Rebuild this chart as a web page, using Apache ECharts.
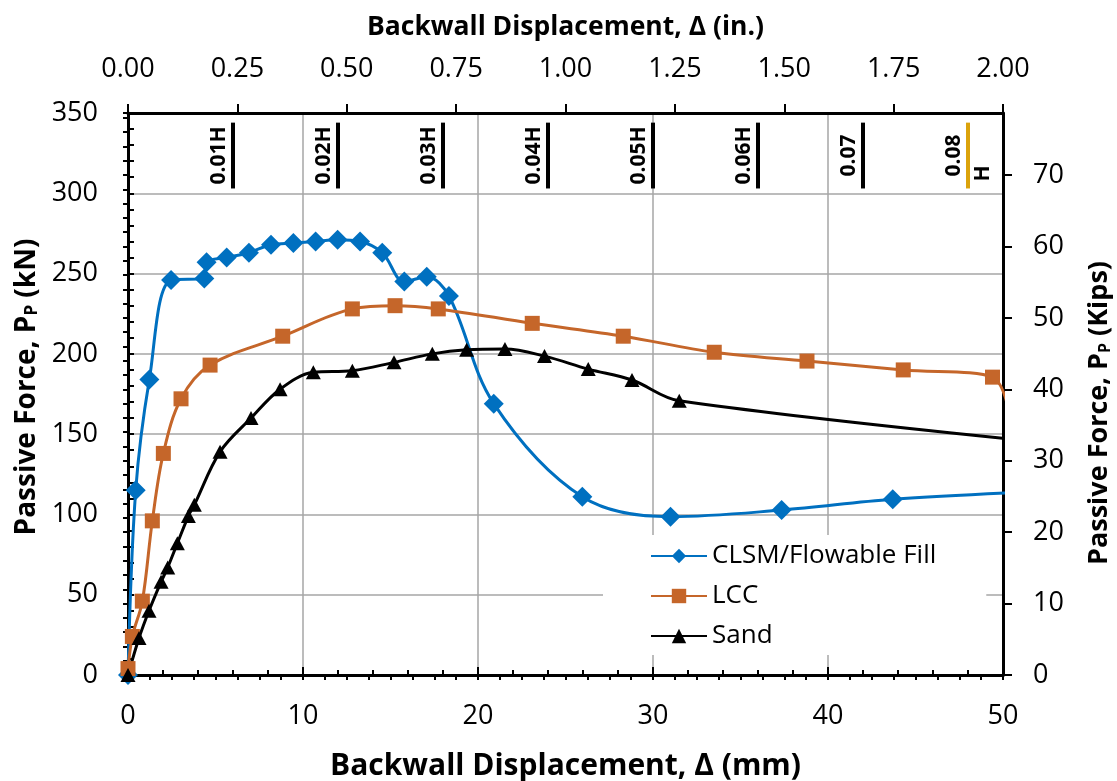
<!DOCTYPE html>
<html>
<head>
<meta charset="utf-8">
<script src="https://cdn.jsdelivr.net/npm/echarts@6/dist/echarts.min.js"></script>
<style>
html,body{margin:0;padding:0;background:#fff;overflow:hidden;width:1117px;height:781px;}
#chart{width:1117px;height:781px;overflow:hidden;}
</style>
</head>
<body>
<div id="chart"></div>
<script>
// ---- data (displacement in mm, force in kN) ----
var clsmX = [0, 0.44, 1.22, 2.46, 4.36, 4.49, 5.64, 6.91, 8.17, 9.45, 10.72, 11.98, 13.26, 14.53, 15.79, 17.07, 18.34, 20.9, 25.96, 31.0, 37.35, 43.7, 51.5];
var clsmY = [0, 115, 184, 246, 247, 257, 260, 263, 268, 269, 270, 271, 270, 263, 245, 248, 236, 169, 111, 98.6, 102.7, 109.4, 114];

var lccX = [0, 0.25, 0.82, 1.39, 2.02, 3.03, 4.69, 8.84, 12.82, 15.26, 17.73, 23.1, 28.3, 33.5, 38.8, 44.3, 49.4, 50.8];
var lccY = [4, 24, 46, 96, 138, 172, 193, 211, 228, 230, 228, 219, 211, 201, 195.5, 190, 185.5, 110];

var sandX = [0, 0.63, 1.2, 1.89, 2.27, 2.82, 3.45, 3.79, 5.26, 7.03, 8.69, 10.59, 12.82, 15.2, 17.39, 19.35, 21.54, 23.8, 26.3, 28.8, 31.5, 56];
var sandY = [0, 23, 40, 58, 67, 82, 99, 106, 139, 160, 178, 188.5, 189.5, 194.7, 200, 202.5, 203, 198.6, 190.5, 183.7, 170.8, 141];

// displacement/height markers (mm)
var markX = [6, 12, 18, 24, 30, 36, 42, 48];
var markLabel = ['0.01H', '0.02H', '0.03H', '0.04H', '0.05H', '0.06H', '0.07', '0.08'];
var markSuffix = ['', '', '', '', '', '', '', 'H'];
var markColor = ['#000', '#000', '#000', '#000', '#000', '#000', '#000', '#dba30c'];
var markBottom = 303, markTop = 344; // kN

var seriesNames = ['CLSM/Flowable Fill', 'LCC', 'Sand'];
var bottomTicks = {min: 0, max: 50, interval: 10};
var topTicks = {min: 0, max: 2, interval: 0.25};
var leftTicks = {min: 0, max: 350, interval: 50};
var rightTicks = {min: 0, max: 78.68, interval: 10};

function zip(xs, ys) { return xs.map(function (x, i) { return [x, ys[i]]; }); }

var FONT = '"Open Sans", "Noto Sans", sans-serif';
var axisLineStyle = {color: '#000', width: 3};
var labelStyle = {fontFamily: FONT, fontSize: 27, color: '#000'};
var gridColor = '#a6a6a6';

var chart = echarts.init(document.getElementById('chart'), null, {renderer: 'canvas', width: 1117, height: 781});

var option = {
  backgroundColor: '#fff',
  animation: false,
  grid: {left: 128, right: 114, top: 113, bottom: 106, containLabel: false, outerBoundsMode: 'none'},
  legend: {
    data: seriesNames,
    orient: 'vertical',
    left: 603,
    top: 535,
    itemWidth: 56,
    itemHeight: 18,
    itemGap: 14,
    backgroundColor: '#fff',
    padding: [8, 50, 6, 47],
    textStyle: {fontFamily: FONT, fontSize: 26, color: '#000'}
  },
  xAxis: [
    {
      type: 'value', position: 'bottom', min: bottomTicks.min, max: bottomTicks.max, interval: bottomTicks.interval,
      axisLine: {show: true, onZero: false, lineStyle: axisLineStyle},
      axisTick: {show: true, inside: true, length: 8, lineStyle: {color: '#000', width: 2}},
      minorTick: {show: true, splitNumber: 5, length: 5, lineStyle: {color: '#000', width: 2}},
      axisLabel: Object.assign({margin: 28}, labelStyle),
      splitLine: {show: true, lineStyle: {color: gridColor, width: 1.5}},
      name: 'Backwall Displacement, \u0394 (mm)',
      nameLocation: 'middle', nameGap: 76,
      nameTextStyle: {fontFamily: FONT, fontSize: 30, fontWeight: 'bold', color: '#000'}
    },
    {
      type: 'value', position: 'top', min: topTicks.min, max: topTicks.max, interval: topTicks.interval,
      axisLine: {show: true, onZero: false, lineStyle: axisLineStyle},
      axisTick: {show: true, inside: false, length: 9, lineStyle: {color: '#000', width: 2}},
      axisLabel: Object.assign({margin: 30, formatter: function (v) { return v.toFixed(2); }}, labelStyle),
      splitLine: {show: false},
      name: 'Backwall Displacement, \u0394 (in.)',
      nameLocation: 'middle', nameGap: 72,
      nameTextStyle: {fontFamily: FONT, fontSize: 26.5, fontWeight: 'bold', color: '#000'}
    },
    {
      type: 'value', position: 'top', min: topTicks.min, max: topTicks.max, interval: 0.05,
      axisLine: {show: false},
      axisTick: {show: true, inside: true, length: 5, lineStyle: {color: '#000', width: 2}},
      axisLabel: {show: false},
      splitLine: {show: false}
    }
  ],
  yAxis: [
    {
      type: 'value', position: 'left', min: leftTicks.min, max: leftTicks.max, interval: leftTicks.interval,
      axisLine: {show: true, onZero: false, lineStyle: axisLineStyle},
      axisTick: {show: true, inside: true, length: 6, lineStyle: {color: '#000', width: 2}},
      minorTick: {show: true, splitNumber: 5, length: 6, lineStyle: {color: '#000', width: 2}},
      axisLabel: Object.assign({margin: 30}, labelStyle),
      splitLine: {show: true, lineStyle: {color: gridColor, width: 1.5}},
      name: 'Passive Force, P{s|P} (kN)',
      nameLocation: 'middle', nameGap: 84, nameRotate: 90,
      nameTextStyle: {
        fontFamily: FONT, fontSize: 28, fontWeight: 'bold', color: '#000', padding: [0, 0, 0, 14],
        rich: {s: {fontFamily: FONT, fontSize: 17, fontWeight: 'bold', color: '#000', verticalAlign: 'bottom', lineHeight: 24}}
      }
    },
    {
      type: 'value', position: 'right', min: rightTicks.min, max: rightTicks.max, interval: rightTicks.interval,
      axisLine: {show: true, onZero: false, lineStyle: axisLineStyle},
      axisTick: {show: true, inside: false, length: 9, lineStyle: {color: '#000', width: 2}},
      axisLabel: Object.assign({margin: 30, showMaxLabel: false}, labelStyle),
      splitLine: {show: false},
      name: 'Passive Force, P{s|P} (Kips)',
      nameLocation: 'middle', nameGap: 83, nameRotate: 90,
      nameTextStyle: {
        fontFamily: FONT, fontSize: 27, fontWeight: 'bold', color: '#000', padding: [0, 38, 0, 0],
        rich: {s: {fontFamily: FONT, fontSize: 16, fontWeight: 'bold', color: '#000', verticalAlign: 'bottom', lineHeight: 23}}
      }
    },
    {
      type: 'value', position: 'right', min: rightTicks.min, max: rightTicks.max, interval: 2,
      axisLine: {show: false},
      axisTick: {show: true, inside: true, length: 5, lineStyle: {color: '#000', width: 2}},
      axisLabel: {show: false},
      splitLine: {show: false}
    }
  ],
  series: [
    {
      name: seriesNames[0], type: 'line', xAxisIndex: 0, yAxisIndex: 0,
      data: zip(clsmX, clsmY), smooth: 0.35, clip: true,
      symbol: 'diamond', symbolSize: [20, 20],
      lineStyle: {color: '#0070c0', width: 3},
      itemStyle: {color: '#0070c0'}
    },
    {
      name: seriesNames[1], type: 'line', xAxisIndex: 0, yAxisIndex: 0,
      data: zip(lccX, lccY), smooth: 0.35, clip: true,
      symbol: 'rect', symbolSize: [15, 15],
      lineStyle: {color: '#c5662a', width: 3},
      itemStyle: {color: '#c5662a'}
    },
    {
      name: seriesNames[2], type: 'line', xAxisIndex: 0, yAxisIndex: 0,
      data: zip(sandX, sandY), smooth: 0.35, clip: true,
      symbol: 'triangle', symbolSize: [15, 14],
      lineStyle: {color: '#000', width: 3},
      itemStyle: {color: '#000'}
    },
    {
      type: 'custom', xAxisIndex: 0, yAxisIndex: 0, silent: true, z: 5,
      data: markX.map(function (x, i) { return [x, i]; }),
      renderItem: function (params, api) {
        var x = api.value(0);
        var i = api.value(1);
        var top = api.coord([x, markTop]);
        var bot = api.coord([x, markBottom]);
        var midY = (top[1] + bot[1]) / 2;
        var children = [
          {type: 'line', shape: {x1: top[0], y1: top[1], x2: bot[0], y2: bot[1]},
           style: {stroke: markColor[i], lineWidth: 4}},
          {type: 'text', x: top[0] - 3, y: midY, rotation: Math.PI / 2,
           style: {text: markLabel[i], fontFamily: FONT, fontSize: 21, fontWeight: 'bold', fill: '#000', align: 'center', verticalAlign: 'bottom'}}
        ];
        if (markSuffix[i]) {
          children.push({type: 'text', x: top[0] + 26, y: midY + 18, rotation: Math.PI / 2,
            style: {text: markSuffix[i], fontFamily: FONT, fontSize: 21, fontWeight: 'bold', fill: '#000', align: 'center', verticalAlign: 'bottom'}});
        }
        return {type: 'group', children: children};
      }
    }
  ]
};
chart.setOption(option);
</script>
</body>
</html>
